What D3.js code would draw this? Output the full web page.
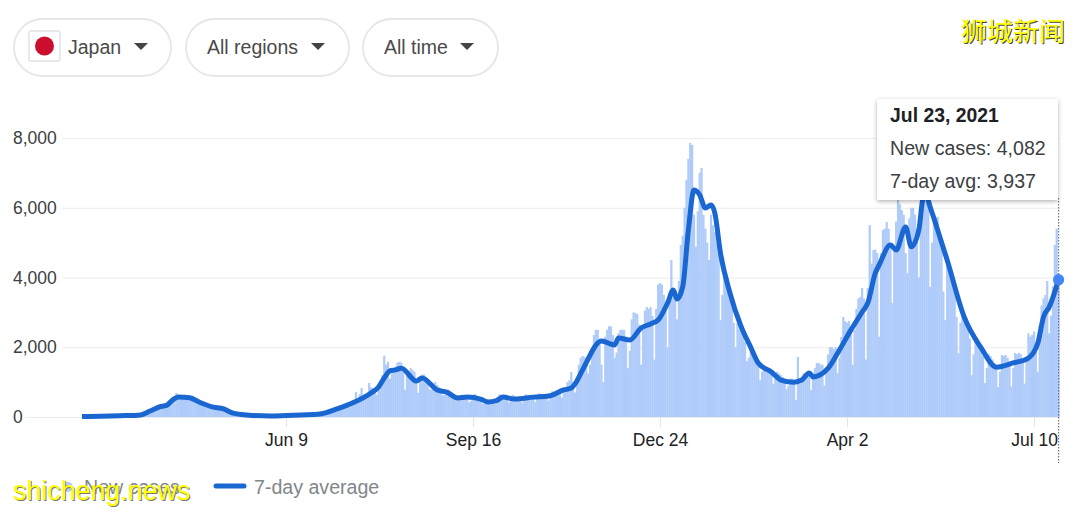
<!DOCTYPE html>
<html>
<head>
<meta charset="utf-8">
<script src="https://cdn.jsdelivr.net/npm/d3@7"></script>
<style>
    html, body { margin: 0; padding: 0; background: #fff; overflow: hidden; }
    text { font-family: "Liberation Sans", Arial, sans-serif; }
</style>
</head>
<body>
<div id="chart"></div>
<script>
const startDate = new Date(2020, 1, 22);

// daily new cases, one row per week (Sat..Fri)
const newCases = [
    10, 14, 22, 18, 14, 20, 24,
    16, 20, 15, 22, 30, 26, 28,
    30, 38, 25, 32, 48, 50, 40,
    38, 42, 30, 40, 55, 45, 52,
    55, 50, 40, 50, 60, 62, 70,
    130, 140, 110, 150, 200, 260, 290,
    310, 300, 240, 340, 430, 500, 540,
    560, 690, 520, 560, 590, 610, 600,
    590, 570, 480, 530, 540, 500, 470,
    440, 380, 300, 340, 350, 320, 310,
    300, 270, 220, 240, 250, 230, 200,
    150, 130, 100, 110, 100, 85, 75,
    60, 50, 40, 50, 55, 50, 50,
    40, 35, 30, 35, 40, 35, 35,
    35, 35, 30, 35, 40, 45, 40,
    40, 40, 35, 45, 50, 55, 55,
    60, 55, 50, 55, 65, 70, 65,
    80, 75, 70, 80, 90, 100, 100,
    120, 130, 110, 140, 190, 210, 210,
    240, 230, 190, 240, 300, 330, 310,
    370, 330, 280, 350, 470, 720, 520,
    650, 830, 520, 560, 680, 975, 850,
    820, 760, 640, 800, 980, 1200, 1760,
    1500, 1580, 1100, 1250, 1350, 1450, 1560,
    1580, 1560, 1300, 780, 1250, 1300, 1400,
    1350, 1300, 1050, 690, 1150, 1200, 1220,
    1080, 1000, 800, 780, 980, 1000, 920,
    860, 820, 620, 640, 740, 780, 720,
    660, 620, 460, 500, 590, 640, 620,
    610, 570, 420, 470, 620, 660, 600,
    570, 530, 380, 390, 490, 500, 480,
    470, 450, 380, 470, 650, 620, 580,
    600, 570, 420, 480, 640, 600, 560,
    560, 530, 420, 500, 650, 620, 580,
    590, 570, 430, 530, 680, 660, 620,
    640, 620, 470, 620, 740, 720, 710,
    770, 730, 560, 740, 860, 1000, 1050,
    1290, 1000, 700, 1150, 1500, 1700, 1750,
    1720, 1600, 1250, 1500, 1950, 2350, 2500,
    2500, 2200, 1500, 1000, 2300, 2500, 2600,
    2600, 2350, 1700, 1850, 2400, 2500, 2500,
    2500, 2300, 1400, 1900, 2800, 3000, 2980,
    2950, 2650, 1500, 2500, 3050, 3150, 3100,
    3150, 2900, 1650, 3100, 3800, 3840, 3800,
    3500, 3300, 2000, 3500, 4500, 3700, 3500,
    2800, 3900, 4930, 5200, 6000, 6800, 7400,
    7860, 7800, 5800, 4880, 5900, 7000, 7140,
    5800, 5400, 5000, 4500, 5800, 5500, 5300,
    5000, 4700, 2780, 3500, 4100, 3900, 3700,
    3600, 3200, 2700, 2000, 2700, 2500, 2400,
    2300, 2150, 1600, 1700, 1900, 1800, 1700,
    1700, 1550, 1050, 1300, 1500, 1450, 1400,
    1350, 1250, 950, 1100, 1300, 1250, 1200,
    1150, 1050, 800, 900, 1100, 1100, 1050,
    490, 1720, 950, 1100, 1250, 1200, 1300,
    1250, 775, 1250, 1400, 1550, 1550, 1500,
    1500, 900, 1400, 1800, 2000, 2000, 1950,
    2000, 1260, 1700, 2300, 2870, 2750, 2700,
    2750, 2600, 1500, 2500, 3100, 3400, 3440,
    3700, 3400, 1650, 3700, 5500, 4400, 4790,
    4800, 4700, 2300, 4700, 5360, 5400, 5590,
    5400, 5000, 3270, 4900, 5600, 6220, 6100,
    5930, 5800, 4700, 4130, 5700, 6000, 6000,
    5800, 5400, 4000, 6000, 6800, 7000, 6900,
    6700, 3730, 5000, 5600, 5700, 5740, 5300,
    5000, 3600, 2780, 4400, 4300, 4100, 3900,
    3600, 2870, 1830, 2700, 3000, 2800, 2700,
    2500, 2250, 1200, 1800, 2300, 2200, 2100,
    2000, 1750, 975, 1400, 1800, 1750, 1650,
    1550, 1400, 860, 1300, 1780, 1750, 1780,
    1700, 1500, 880, 1400, 1835, 1800, 1835,
    1800, 1600, 960, 1700, 2400, 2300, 2350,
    2450, 1900, 1300, 2600, 3200, 3400, 3500,
    3900, 2400, 2900, 3750, 4930, 5400, 4082
];

// 7-day average at its bends (day number since startDate)
const avgDays = [
    0, 10, 20, 31, 36, 41, 45, 48, 51, 57, 62, 69, 75, 80, 90, 100, 108, 116,
    126, 135, 144, 153, 157, 160, 163, 166, 169, 177, 180, 188, 193, 199, 204, 211,
    215, 219, 223, 229, 239, 247, 255, 259, 261, 265, 275, 282, 284, 290, 296, 301,
    305, 310, 313, 315, 318, 321, 324, 327, 330, 333, 335, 338, 343, 349, 354, 358,
    365, 370, 377, 381, 385, 387, 395, 400, 407, 413, 416, 420, 422, 428, 431, 436, 439,
    443, 445, 447, 448, 451, 458, 467, 476, 484, 493, 501, 506, 509, 512, 517
];
const avgValues = [
    15, 20, 35, 60, 170, 290, 340, 490, 575, 550, 430, 290, 230, 110, 45, 30, 45, 60,
    85, 230, 420, 690, 860, 1120, 1320, 1350, 1400, 1030, 1120, 775, 715, 545, 570, 515,
    430, 460, 570, 515, 570, 600, 775, 830, 950, 1350, 2180, 2065, 2265, 2210, 2550, 2670,
    2780, 3270, 3640, 3380, 3730, 5360, 6510, 6370, 5990, 6080, 5850, 4700, 3560, 2580, 2000, 1550,
    1290, 1060, 1000, 1060, 1260, 1150, 1400, 1830, 2490, 3010, 3270, 4130, 4360, 4930, 4790, 5450, 4880,
    5360, 6220, 6480, 6220, 5700, 4500, 2870, 1980, 1430, 1550, 1690, 2120, 2870, 3150, 3937
];

const xTickDates = [
    new Date(2020, 5, 9),
    new Date(2020, 8, 16),
    new Date(2020, 11, 24),
    new Date(2021, 3, 2),
    new Date(2021, 6, 10)
];
const yTicks = [0, 2000, 4000, 6000, 8000];
const pills = [
    { label: "Japan", x: 14, w: 157, textX: 68, caretX: 141 },
    { label: "All regions", x: 186, w: 163, textX: 207, caretX: 318 },
    { label: "All time", x: 363, w: 135, textX: 384, caretX: 467 }
];
const legendLabels = ["New cases", "7-day average"];
const tooltipTitle = "Jul 23, 2021";
const tooltipLines = ["New cases: 4,082", "7-day avg: 3,937"];

const svgWidth = 1080;
const svgHeight = 511;
const dayDate = d => d3.timeDay.offset(startDate, d);

const svg = d3.select("#chart")
    .append("svg")
    .attr("width", svgWidth)
    .attr("height", svgHeight)
    .style("display", "block");

const defs = svg.append("defs");
const shadow = defs.append("filter").attr("id", "tipShadow")
    .attr("x", "-10%").attr("y", "-10%").attr("width", "120%").attr("height", "125%");
shadow.append("feDropShadow")
    .attr("dx", 0).attr("dy", 1.5).attr("stdDeviation", 2)
    .attr("flood-color", "#000").attr("flood-opacity", 0.3);
defs.append("filter").attr("id", "soft")
    .append("feGaussianBlur").attr("stdDeviation", 0.55);

const xScale = d3.scaleTime()
    .domain([startDate, dayDate(517)])
    .range([82, 1058.6]);
const yScale = d3.scaleLinear()
    .domain([0, 8000])
    .range([417, 138]);

// y axis with gridlines
const yAxis = svg.append("g")
    .attr("transform", "translate(62,0)")
    .call(d3.axisLeft(yScale).tickValues(yTicks).tickFormat(d3.format(",")).tickSize(-998));
yAxis.select(".domain").remove();
yAxis.selectAll("line").attr("stroke", "#ececec");
yAxis.selectAll("text")
    .attr("x", -49)
    .attr("text-anchor", "start")
    .attr("fill", "#3c4043")
    .style("font-size", "17.5px");
yAxis.selectAll(".tick").filter(d => d === 0).select("line").attr("x1", -37);

// x axis
const xAxis = svg.append("g")
    .attr("transform", "translate(0,417)")
    .call(d3.axisBottom(xScale).tickValues(xTickDates).tickFormat(d3.timeFormat("%b %-d")).tickSize(10).tickPadding(7));
xAxis.select(".domain").remove();
xAxis.selectAll("line").attr("stroke", "#e4e4e4");
xAxis.selectAll("text")
    .attr("fill", "#202124")
    .style("font-size", "17.5px");

// bars
svg.append("g")
    .attr("filter", "url(#soft)")
    .selectAll("rect")
    .data(newCases)
    .enter()
    .append("rect")
    .attr("x", (d, i) => xScale(dayDate(i)) - 1.1)
    .attr("y", d => yScale(d))
    .attr("width", 2.2)
    .attr("height", d => yScale(0) - yScale(d))
    .attr("fill", "#aecbfa");

// average line
const line = d3.line()
    .x(d => xScale(dayDate(d)))
    .y((d, i) => yScale(avgValues[i]))
    .curve(d3.curveMonotoneX);
svg.append("path")
    .attr("d", line(avgDays))
    .attr("fill", "none")
    .attr("stroke", "#1a67d2")
    .attr("stroke-width", 5)
    .attr("stroke-linejoin", "round");

// hover marker
const lastDate = dayDate(517);
svg.append("line")
    .attr("x1", xScale(lastDate)).attr("x2", xScale(lastDate))
    .attr("y1", 198).attr("y2", 463)
    .attr("stroke", "#70757a")
    .attr("stroke-width", 1.2)
    .attr("stroke-dasharray", "1.5,1.5");
svg.append("circle")
    .attr("cx", xScale(lastDate))
    .attr("cy", yScale(avgValues[avgValues.length - 1]))
    .attr("r", 5.6)
    .attr("fill", "#4285f4");

// tooltip
const tip = svg.append("g").attr("transform", "translate(877,99)");
tip.append("rect")
    .attr("width", 181).attr("height", 101).attr("rx", 2)
    .attr("fill", "#fff")
    .attr("filter", "url(#tipShadow)");
tip.append("text")
    .attr("x", 13).attr("y", 23)
    .attr("fill", "#202124")
    .style("font-size", "19.4px")
    .style("font-weight", "bold")
    .text(tooltipTitle);
tip.selectAll(".tipLine")
    .data(tooltipLines)
    .enter()
    .append("text")
    .attr("class", "tipLine")
    .attr("x", 13)
    .attr("y", (d, i) => 56 + i * 32.5)
    .attr("fill", "#3c4043")
    .style("font-size", "19.6px")
    .text(d => d);

// dropdown pills
const pill = svg.selectAll(".pill")
    .data(pills)
    .enter()
    .append("g")
    .attr("class", "pill");
pill.append("rect")
    .attr("x", d => d.x)
    .attr("y", 19)
    .attr("width", d => d.w)
    .attr("height", 57)
    .attr("rx", 28.5)
    .attr("fill", "#fff")
    .attr("stroke", "#e6e6e6")
    .attr("stroke-width", 1.8);
pill.append("text")
    .attr("x", d => d.textX)
    .attr("y", 54)
    .attr("fill", "#4a4a4a")
    .style("font-size", "19.5px")
    .text(d => d.label);
pill.append("path")
    .attr("d", d => d3.line()([[d.caretX - 7, 43], [d.caretX + 7, 43], [d.caretX, 50]]))
    .attr("fill", "#444");

// flag
svg.append("rect")
    .attr("x", 29).attr("y", 31).attr("width", 31).attr("height", 30).attr("rx", 2)
    .attr("fill", "#fff").attr("stroke", "#e2e2e2").attr("stroke-width", 1.5);
svg.append("circle")
    .attr("cx", 44.5).attr("cy", 46).attr("r", 9.5)
    .attr("fill", "#cc0f2f");

// legend
svg.append("circle")
    .attr("cx", 68).attr("cy", 487).attr("r", 5)
    .attr("fill", "#aecbfa");
svg.append("text")
    .attr("x", 84).attr("y", 494)
    .attr("fill", "#80868b")
    .style("font-size", "19.6px")
    .text(legendLabels[0]);
svg.append("line")
    .attr("x1", 216).attr("x2", 244).attr("y1", 486).attr("y2", 486)
    .attr("stroke", "#1a67d2").attr("stroke-width", 5).attr("stroke-linecap", "round");
svg.append("text")
    .attr("x", 254).attr("y", 494)
    .attr("fill", "#80868b")
    .style("font-size", "19.6px")
    .text(legendLabels[1]);

// watermarks
svg.append("text")
    .attr("x", 961).attr("y", 41)
    .attr("fill", "#ffff00")
    .style("font-family", '"Noto Sans CJK SC"')
    .style("font-size", "26px")
    .style("font-weight", 400)
    .style("text-shadow", "1px 1px 0 #444")
    .text("狮城新闻");
svg.append("text")
    .attr("x", 13).attr("y", 500)
    .attr("fill", "#ffff00")
    .style("font-size", "26.8px")
    .style("text-shadow", "1px 1px 0 #777")
    .text("shicheng.news");
</script>
</body>
</html>
